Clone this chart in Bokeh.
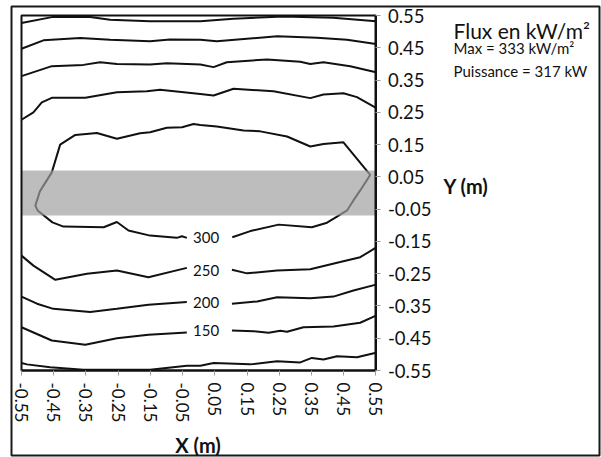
from bokeh.plotting import figure
from bokeh.models import Range1d, FixedTicker, PrintfTickFormatter, Label, ColumnDataSource
from bokeh.core.properties import value
from bokeh.embed import file_html
from bokeh.resources import INLINE

# ---- data ----
TICKS = [-0.55, -0.45, -0.35, -0.25, -0.15, -0.05, 0.05, 0.15, 0.25, 0.35, 0.45, 0.55]

# upper contours
UP100_X = [-0.55, -0.456, -0.337, -0.275, -0.151, 0.005, 0.107, 0.262, 0.417, 0.55]
UP100_Y = [0.527, 0.545, 0.545, 0.537, 0.532, 0.532, 0.540, 0.547, 0.543, 0.532]

UP150_X = [-0.55, -0.482, -0.368, -0.275, -0.151, -0.089, 0.005, 0.056, 0.243, 0.367, 0.460, 0.55]
UP150_Y = [0.447, 0.473, 0.480, 0.475, 0.470, 0.476, 0.475, 0.470, 0.486, 0.481, 0.475, 0.462]

UP200_X = [-0.55, -0.456, -0.358, -0.306, -0.254, -0.151, -0.099, 0.005, 0.046, 0.087, 0.212, 0.315, 0.346, 0.387, 0.470, 0.55]
UP200_Y = [0.362, 0.393, 0.397, 0.405, 0.400, 0.398, 0.402, 0.398, 0.390, 0.405, 0.414, 0.407, 0.400, 0.405, 0.393, 0.374]

UP250_X = [-0.55, -0.513, -0.487, -0.456, -0.352, -0.254, -0.161, -0.120, 0.005, 0.046, 0.108, 0.232, 0.346, 0.387, 0.449, 0.491, 0.55]
UP250_Y = [0.227, 0.250, 0.281, 0.295, 0.295, 0.312, 0.315, 0.320, 0.307, 0.302, 0.323, 0.315, 0.294, 0.305, 0.309, 0.297, 0.264]

# closed 300 contour (open only at its label)
C300_X = [0.104, 0.160, 0.248, 0.351, 0.398, 0.429, 0.460, 0.480, 0.501, 0.532,
          0.449, 0.387, 0.346, 0.274, 0.191, 0.139, 0.056, 0.005, -0.016, -0.052,
          -0.099, -0.151, -0.182, -0.254, -0.316, -0.383, -0.430, -0.456, -0.493,
          -0.507, -0.500, -0.454, -0.420, -0.295, -0.254, -0.218, -0.151, -0.068,
          -0.052, -0.037]
C300_Y = [-0.137, -0.118, -0.098, -0.106, -0.092, -0.073, -0.054, -0.023, 0.008, 0.056,
          0.157, 0.152, 0.144, 0.175, 0.191, 0.194, 0.206, 0.211, 0.214, 0.204,
          0.202, 0.188, 0.185, 0.168, 0.186, 0.180, 0.150, 0.064, 0.005,
          -0.039, -0.054, -0.091, -0.104, -0.106, -0.090, -0.116, -0.132, -0.139,
          -0.134, -0.139]

# lower contours (split at their labels)
LO250_XA = [-0.55, -0.513, -0.445, -0.347, -0.254, -0.156, -0.037]
LO250_YA = [-0.194, -0.225, -0.269, -0.250, -0.240, -0.261, -0.232]
LO250_XB = [0.103, 0.150, 0.243, 0.346, 0.439, 0.501, 0.55]
LO250_YB = [-0.238, -0.249, -0.240, -0.236, -0.214, -0.199, -0.169]

LO200_XA = [-0.55, -0.502, -0.451, -0.337, -0.254, -0.156, -0.037]
LO200_YA = [-0.321, -0.343, -0.359, -0.369, -0.359, -0.346, -0.338]
LO200_XB = [0.103, 0.181, 0.243, 0.346, 0.418, 0.480, 0.55]
LO200_YB = [-0.343, -0.336, -0.323, -0.326, -0.321, -0.302, -0.284]

LO150_XA = [-0.55, -0.456, -0.352, -0.254, -0.156, -0.037]
LO150_YA = [-0.416, -0.457, -0.470, -0.450, -0.439, -0.432]
LO150_XB = [0.103, 0.170, 0.217, 0.253, 0.274, 0.325, 0.418, 0.501, 0.55]
LO150_YB = [-0.426, -0.428, -0.433, -0.427, -0.430, -0.416, -0.414, -0.402, -0.380]

LO100_X = [-0.55, -0.533, -0.461, -0.358, -0.151, -0.037, 0.005, 0.046, 0.160, 0.243, 0.315, 0.351, 0.387, 0.429, 0.491, 0.55]
LO100_Y = [-0.527, -0.531, -0.540, -0.548, -0.548, -0.535, -0.535, -0.527, -0.531, -0.521, -0.525, -0.511, -0.516, -0.506, -0.509, -0.495]

LABEL_TEXT = ["300", "250", "200", "150"]
LABEL_X = [0.023, 0.023, 0.023, 0.023]
LABEL_Y = [-0.138, -0.239, -0.339, -0.427]

BAND_BOTTOM = [-0.07]
BAND_TOP = [0.07]

TITLE = "Flux en kW/m²"
LINE1 = "Max = 333 kW/m²"
LINE2 = "Puissance = 317 kW"
XLABEL = "X (m)"
YLABEL = "Y (m)"

FONT = "Lato"
INK = "#111111"

LO, HI = TICKS[0], TICKS[-1]

# the frame fills the whole canvas (its outline is the outer border);
# the plotting box [-0.55, 0.55]^2 sits inside it with axes at fixed locations
p = figure(width=601, height=457, output_backend="svg", toolbar_location=None,
           x_range=Range1d(-0.58103, 1.24353), y_range=Range1d(-0.81338, 0.57789),
           y_axis_location="right",
           min_border_left=11, min_border_top=6, min_border_right=2, min_border_bottom=2)

p.xgrid.visible = False
p.ygrid.visible = False
p.background_fill_color = "white"
p.border_fill_color = "white"
p.outline_line_color = "#1a1a1a"
p.outline_line_width = 2
p.outline_line_alpha = 1.0

for ax in (p.xaxis[0], p.yaxis[0]):
    ax.ticker = FixedTicker(ticks=TICKS)
    ax.formatter = PrintfTickFormatter(format="%.2f")
    ax.bounds = (LO, HI)
    ax.minor_tick_line_color = None
    ax.major_tick_in = 0
    ax.major_tick_out = 5
    ax.major_tick_line_color = "#9a9a9a"
    ax.major_tick_line_width = 1
    ax.axis_line_color = INK
    ax.axis_line_width = 2
    ax.major_label_text_font = FONT
    ax.major_label_text_color = "#111111"

p.xaxis.fixed_location = LO
p.yaxis.fixed_location = HI
p.yaxis.major_label_text_font_size = "18.5px"
p.yaxis.major_label_standoff = 7
p.xaxis.major_label_text_font_size = "17px"
p.xaxis.major_label_standoff = 7
p.xaxis.major_label_orientation = "vertical"

lines = [
    (UP100_X, UP100_Y), (UP150_X, UP150_Y), (UP200_X, UP200_Y), (UP250_X, UP250_Y),
    (C300_X, C300_Y),
    (LO250_XA, LO250_YA), (LO250_XB, LO250_YB),
    (LO200_XA, LO200_YA), (LO200_XB, LO200_YB),
    (LO150_XA, LO150_YA), (LO150_XB, LO150_YB),
    (LO100_X, LO100_Y),
]
for xs, ys in lines:
    p.line(xs, ys, line_color=INK, line_width=2)

# translucent grey band over the lines
p.quad(left=[LO], right=[HI], bottom=BAND_BOTTOM, top=BAND_TOP,
       fill_color="#a0a0a0", fill_alpha=0.69, line_color=None)

# plotting box outline
p.quad(left=[LO], right=[HI], bottom=[LO], top=[HI],
       fill_color=None, line_color=INK, line_width=2)

src = ColumnDataSource(dict(x=LABEL_X, y=LABEL_Y, t=LABEL_TEXT))
p.text(x="x", y="y", text="t", source=src, text_font=value(FONT), text_font_size="15px",
       text_align="center", text_baseline="middle", text_color=INK)

p.add_layout(Label(x=0.7905, y=0.502, text=TITLE, text_font=FONT, text_font_size="21px",
                   text_color=INK, text_baseline="middle"))
p.add_layout(Label(x=0.7905, y=0.4484, text=LINE1, text_font=FONT, text_font_size="15px",
                   text_color=INK, text_baseline="middle"))
p.add_layout(Label(x=0.7905, y=0.378, text=LINE2, text_font=FONT, text_font_size="15px",
                   text_color=INK, text_baseline="middle"))
p.add_layout(Label(x=0.7595, y=0.0232, text=YLABEL, text_font=FONT, text_font_size="20px",
                   text_font_style="bold", text_color=INK, text_baseline="middle"))
p.add_layout(Label(x=-0.0023, y=-0.7793, text=XLABEL, text_font=FONT, text_font_size="20px",
                   text_font_style="bold", text_color=INK, text_align="center",
                   text_baseline="middle"))

open("out.html", "w").write(file_html(p, INLINE))
